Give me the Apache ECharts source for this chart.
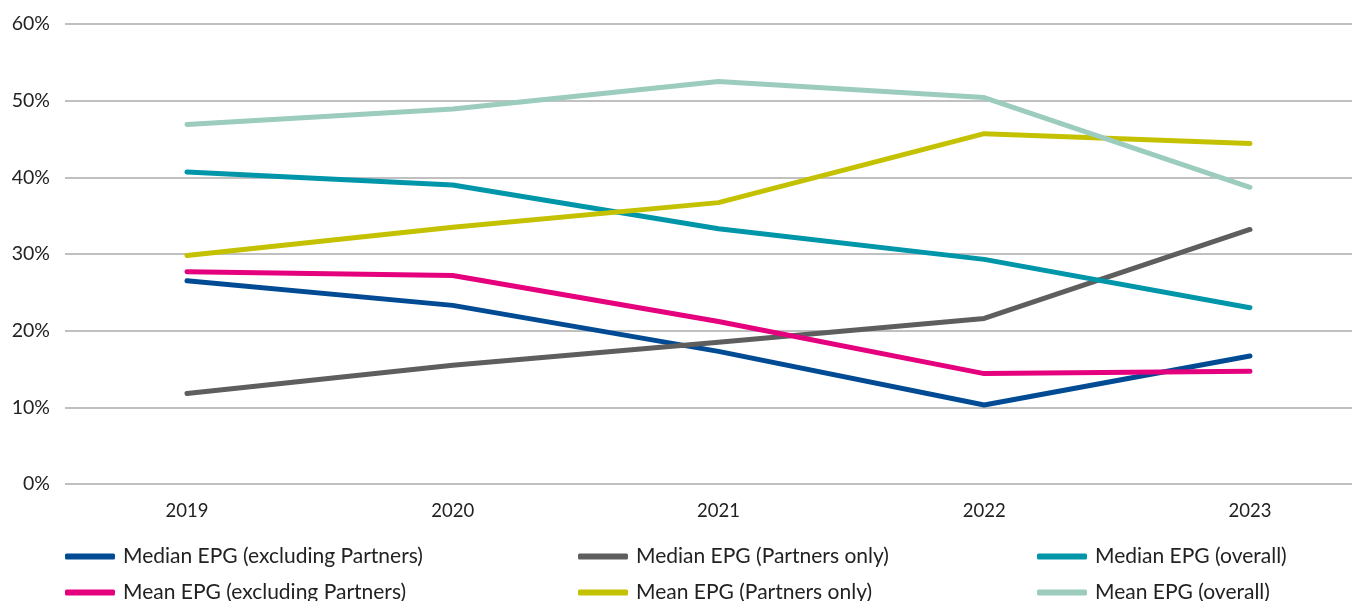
<!DOCTYPE html>
<html>
<head>
<meta charset="utf-8">
<script src="https://cdn.jsdelivr.net/npm/echarts@6/dist/echarts.min.js"></script>
<style>html,body{margin:0;padding:0;background:#fff;}#c{width:1352px;height:601px;}</style>
</head>
<body>
<div id="c"></div>
<script>
const years = [2019, 2020, 2021, 2022, 2023];
const yTicks = [0, 10, 20, 30, 40, 50, 60];
const medianExcl = [26.5, 23.3, 17.3, 10.3, 16.7];
const medianPartners = [11.8, 15.5, 18.5, 21.6, 33.2];
const medianOverall = [40.7, 39.0, 33.3, 29.3, 23.0];
const meanExcl = [27.7, 27.2, 21.2, 14.4, 14.7];
const meanPartners = [29.8, 33.5, 36.7, 45.7, 44.4];
const meanOverall = [46.9, 48.9, 52.5, 50.4, 38.7];
const names = [
  'Median EPG (excluding Partners)', 'Median EPG (Partners only)', 'Median EPG (overall)',
  'Mean EPG (excluding Partners)', 'Mean EPG (Partners only)', 'Mean EPG (overall)'
];
const colors = ['#004B93', '#5E5E5E', '#0096AA', '#E5007E', '#C4C200', '#9BCCBE'];
const valuesList = [medianExcl, medianPartners, medianOverall, meanExcl, meanPartners, meanOverall];

const FONT = 'Lato, "Open Sans", sans-serif';
const chart = echarts.init(document.getElementById('c'), null, {renderer: 'canvas'});

const series = names.map((n, i) => ({
  name: n,
  type: 'line',
  data: years.map((y, j) => [y, valuesList[i][j]]),
  symbol: 'none',
  lineStyle: {width: 5, color: colors[i], cap: 'round', join: 'round'},
  itemStyle: {color: colors[i]},
  z: 2 + i
}));

const legendLefts = [65, 578, 1037];
const legendTops = [546, 582];
const legends = names.map((n, i) => ({
  orient: 'horizontal',
  left: legendLefts[i % 3],
  top: legendTops[Math.floor(i / 3)],
  padding: 0,
  itemWidth: 50,
  itemHeight: 6,
  icon: 'roundRect',
  data: [n],
  textStyle: {fontFamily: FONT, fontSize: 21, color: '#222', lineHeight: 20, padding: [0, 0, 0, 3]}
}));

chart.setOption({
  animation: false,
  backgroundColor: '#fff',
  grid: {left: 65, right: 0, top: 24, bottom: 117, containLabel: false},
  xAxis: {
    type: 'value',
    min: 2018.541,
    max: 2023.384,
    axisLine: {show: false},
    axisTick: {show: false},
    splitLine: {show: false},
    axisLabel: {
      customValues: years,
      formatter: v => String(Math.round(v)),
      fontFamily: FONT, fontSize: 18.5, color: '#222', margin: 18
    }
  },
  yAxis: {
    type: 'value',
    min: yTicks[0],
    max: yTicks[yTicks.length - 1],
    interval: 10,
    axisLine: {show: false},
    axisTick: {show: false},
    axisLabel: {formatter: '{value}%', fontFamily: FONT, fontSize: 19.5, color: '#222', margin: 15},
    splitLine: {lineStyle: {color: '#ABABAB', width: 1.5}}
  },
  legend: legends,
  series: series
});
</script>
</body>
</html>
